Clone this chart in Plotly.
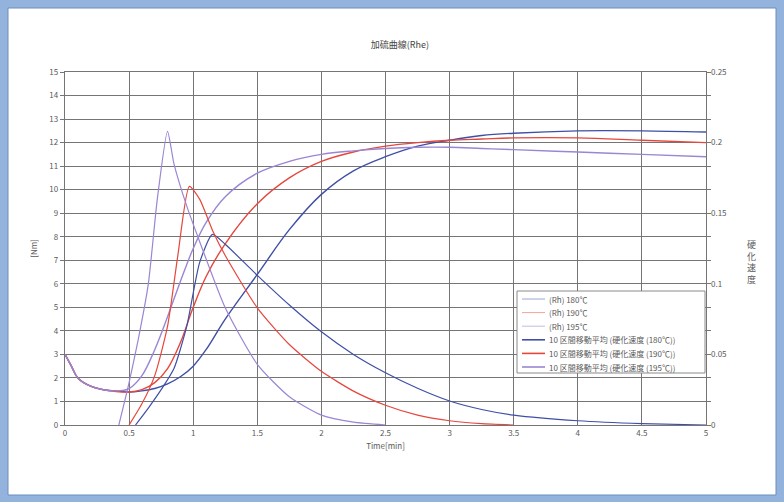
import plotly.graph_objects as go

# ---- data ----
title_text = "加硫曲線(Rhe)"
t_torque = [0, 0.05, 0.1, 0.2, 0.3, 0.4, 0.5, 0.6, 0.7, 0.8, 0.9, 1.0, 1.1, 1.25, 1.5, 1.75, 2.0, 2.25, 2.5, 2.75, 3.0, 3.25, 3.5, 4.0, 4.5, 5.0]
torque_blue = [3.0, 2.5, 2.0, 1.65, 1.5, 1.45, 1.4, 1.45, 1.55, 1.75, 2.05, 2.5, 3.2, 4.5, 6.4, 8.3, 9.8, 10.8, 11.4, 11.85, 12.1, 12.3, 12.4, 12.5, 12.5, 12.45]
torque_red = [3.0, 2.5, 2.0, 1.65, 1.5, 1.42, 1.4, 1.5, 1.8, 2.4, 3.5, 5.0, 6.3, 7.7, 9.4, 10.5, 11.2, 11.6, 11.85, 12.0, 12.1, 12.15, 12.2, 12.2, 12.1, 12.0]
torque_purple = [3.0, 2.5, 2.0, 1.65, 1.5, 1.45, 1.55, 2.1, 3.2, 4.6, 6.1, 7.5, 8.6, 9.7, 10.7, 11.2, 11.5, 11.65, 11.75, 11.8, 11.8, 11.75, 11.7, 11.6, 11.5, 11.4]

t_rate_blue = [0.55, 0.65, 0.75, 0.85, 0.95, 1.05, 1.15, 1.25, 1.5, 1.75, 2.0, 2.25, 2.5, 2.75, 3.0, 3.25, 3.5, 4.0, 4.5, 5.0]
rate_blue = [0.0, 0.012, 0.025, 0.04, 0.07, 0.115, 0.135, 0.128, 0.106, 0.085, 0.066, 0.05, 0.037, 0.026, 0.017, 0.011, 0.007, 0.003, 0.001, 0.0]
t_rate_red = [0.5, 0.6, 0.7, 0.8, 0.88, 0.97, 1.05, 1.15, 1.25, 1.5, 1.75, 2.0, 2.25, 2.5, 2.75, 3.0, 3.25, 3.5]
rate_red = [0.0, 0.015, 0.035, 0.07, 0.12, 0.169, 0.16, 0.138, 0.12, 0.083, 0.057, 0.038, 0.024, 0.014, 0.007, 0.003, 0.001, 0.0]
t_rate_purple = [0.42, 0.5, 0.57, 0.65, 0.72, 0.8, 0.85, 0.95, 1.05, 1.25, 1.5, 1.75, 2.0, 2.25, 2.5]
rate_purple = [0.0, 0.03, 0.06, 0.1, 0.16, 0.208, 0.185, 0.155, 0.13, 0.083, 0.043, 0.02, 0.007, 0.002, 0.0]

names = ["(Rh) 180℃", "(Rh) 190℃", "(Rh) 195℃",
         "10 区間移動平均 (硬化速度 (180℃))", "10 区間移動平均 (硬化速度 (190℃))", "10 区間移動平均 (硬化速度 (195℃))"]

x_ticks = [0, 0.5, 1, 1.5, 2, 2.5, 3, 3.5, 4, 4.5, 5]
y_ticks = list(range(0, 16))
y2_ticks = [0, 0.05, 0.1, 0.15, 0.2, 0.25]
y2_labels = ["0", "0.05", "0.1", "0.15", "0.2", "0.25"]
y2_title = "硬化速度"

c_blue = "#3f4fa6"
c_red = "#e5473d"
c_purple = "#9b86d3"
legend_colors = ["#9aa6d0", "#f0a49c", "#c6b8ea", c_blue, c_red, c_purple]
legend_widths = [1, 1, 1, 1.6, 1.6, 1.6]

fig = go.Figure()
fig.add_trace(go.Scatter(x=t_torque, y=torque_blue, name=names[0], mode="lines",
                         line=dict(color=c_blue, width=1.4, shape="spline")))
fig.add_trace(go.Scatter(x=t_torque, y=torque_red, name=names[1], mode="lines",
                         line=dict(color=c_red, width=1.4, shape="spline")))
fig.add_trace(go.Scatter(x=t_torque, y=torque_purple, name=names[2], mode="lines",
                         line=dict(color=c_purple, width=1.4, shape="spline")))
fig.add_trace(go.Scatter(x=t_rate_blue, y=rate_blue, name=names[3], mode="lines", yaxis="y2",
                         line=dict(color=c_blue, width=1.2, shape="spline", smoothing=0.6)))
fig.add_trace(go.Scatter(x=t_rate_red, y=rate_red, name=names[4], mode="lines", yaxis="y2",
                         line=dict(color=c_red, width=1.2, shape="spline", smoothing=0.6)))
fig.add_trace(go.Scatter(x=t_rate_purple, y=rate_purple, name=names[5], mode="lines", yaxis="y2",
                         line=dict(color=c_purple, width=1.2, shape="spline", smoothing=0.6)))

L, R, T, B = 65, 78, 72, 77
W, H = 784, 502
pw, ph = W - L - R, H - T - B


def px(x):
    return (x - L) / pw


def py(y):
    return (H - B - y) / ph


font = "Noto Sans CJK JP, DejaVu Sans, sans-serif"
txt = "#5a5a5a"

shapes = [dict(type="rect", xref="paper", yref="paper", layer="below",
               x0=px(8), x1=px(776), y0=py(495), y1=py(8),
               fillcolor="white", line=dict(color="#6d8cbc", width=1)),
          # legend box
          dict(type="rect", xref="paper", yref="paper", layer="above",
               x0=px(517), x1=px(705), y0=py(373), y1=py(291),
               fillcolor="white", line=dict(color="#8a8a8a", width=1))]
annotations = []
row0, step = 299, 13.6
for i, nm in enumerate(names):
    yy = row0 + i * step
    shapes.append(dict(type="line", xref="paper", yref="paper", layer="above",
                       x0=px(522), x1=px(545), y0=py(yy), y1=py(yy),
                       line=dict(color=legend_colors[i], width=legend_widths[i])))
    annotations.append(dict(xref="paper", yref="paper", x=px(547), y=py(yy), text=nm,
                            showarrow=False, xanchor="left", yanchor="middle",
                            font=dict(size=8, color=txt)))
annotations.append(dict(xref="paper", yref="paper", x=px(751), y=py(262),
                        text="<br>".join(list(y2_title)), showarrow=False,
                        xanchor="center", yanchor="middle", align="center",
                        font=dict(size=9, color=txt)))

fig.update_layout(
    width=W, height=H,
    margin=dict(l=L, r=R, t=T, b=B, autoexpand=False),
    paper_bgcolor="#93b3dd",
    plot_bgcolor="white",
    font=dict(family=font, size=8, color=txt),
    title=dict(text=title_text, x=0.51, xanchor="center", y=1 - 45 / H, yanchor="middle",
               font=dict(size=9, color="#444444")),
    showlegend=False,
    xaxis=dict(range=[0, 5], tickvals=x_ticks, ticktext=[str(v) for v in x_ticks],
               showgrid=True, gridcolor="#757575", gridwidth=1.3,
               showline=True, linecolor="#757575", linewidth=1.3, mirror=True,
               zeroline=False, ticks="", automargin=False,
               title=dict(text="Time[min]", font=dict(size=8, color=txt), standoff=6)),
    yaxis=dict(range=[0, 15], tickvals=y_ticks, showgrid=True, gridcolor="#757575", gridwidth=1.3,
               showline=True, linecolor="#757575", linewidth=1.3, zeroline=False, mirror="ticks",
               ticks="outside", ticklen=4, tickcolor="#757575", automargin=False,
               title=dict(text="[Nm]", font=dict(size=8, color=txt), standoff=10)),
    yaxis2=dict(range=[0, 0.25], overlaying="y", side="right", tickvals=y2_ticks, ticktext=y2_labels,
                showgrid=False, zeroline=False, showline=False, ticks="", ticklabelstandoff=4,
                automargin=False),
    shapes=shapes,
    annotations=annotations,
)
fig.write_html("out.html", config={"displayModeBar": False},
               post_script="document.body.style.margin='0';document.body.style.background='#93b3dd';")
